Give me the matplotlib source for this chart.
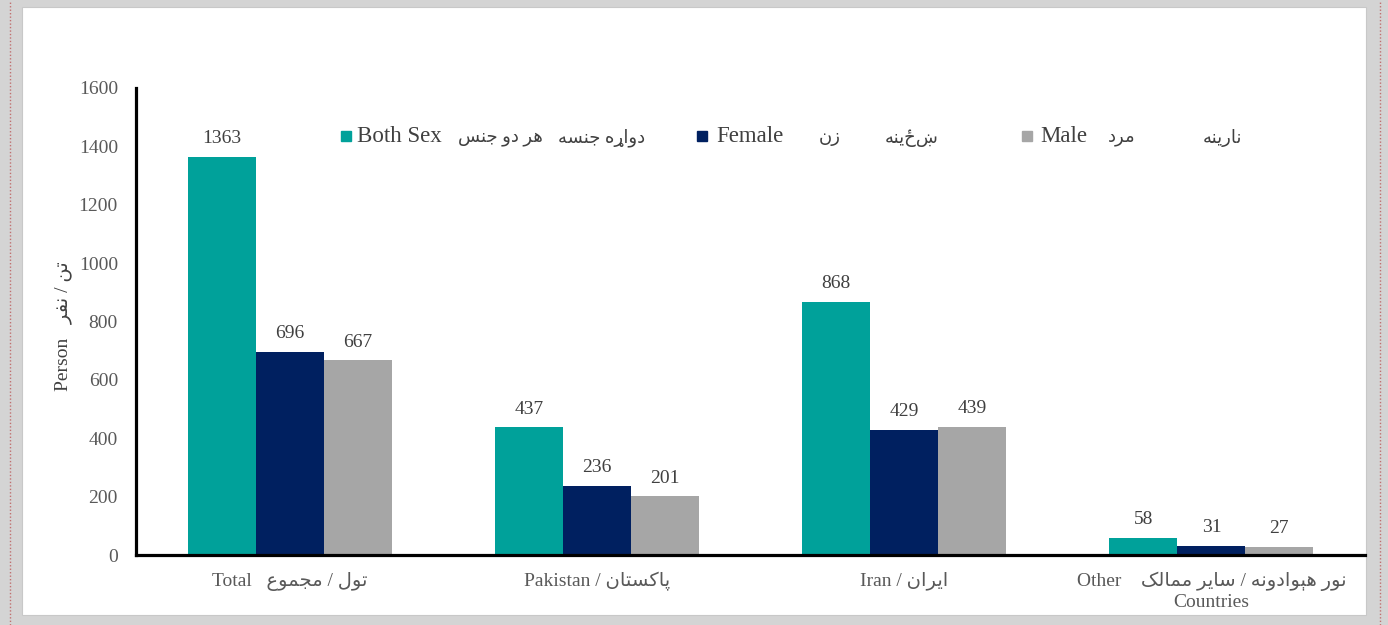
import numpy as np
import matplotlib
matplotlib.use("Agg")
import matplotlib.pyplot as plt
from matplotlib.patches import Rectangle
from matplotlib.lines import Line2D

plt.rcParams['font.family'] = ['Liberation Serif', 'DejaVu Sans']

# --- data ---
series = ["Both Sex", "Female", "Male"]
both_sex = [1363, 437, 868, 58]
female = [696, 236, 429, 31]
male = [667, 201, 439, 27]
colors = ["#00A19A", "#002060", "#A6A6A6"]

# Arabic-script shaping (matplotlib has no complex text layout)
DUAL = {0x628: 0xFE8F, 0x62A: 0xFE95, 0x62C: 0xFE9D, 0x633: 0xFEB1, 0x639: 0xFEC9,
        0x641: 0xFED1, 0x644: 0xFEDD, 0x645: 0xFEE1, 0x646: 0xFEE5, 0x647: 0xFEE9,
        0x6CC: 0xFBFC, 0x6A9: 0xFB8E, 0x67E: 0xFB56, 0x6D0: 0xFBE4}
RIGHT = {0x627: 0xFE8D, 0x62F: 0xFEA9, 0x631: 0xFEAD, 0x632: 0xFEAF, 0x648: 0xFEED}


def ar(text):
    out = []
    for i, c in enumerate(text):
        o = ord(c)
        base = DUAL.get(o, RIGHT.get(o))
        if base is None:
            out.append(c)
            continue
        prev = text[i - 1] if i > 0 else " "
        nxt = text[i + 1] if i + 1 < len(text) else " "
        before = ord(prev) in DUAL
        after = o in DUAL and (ord(nxt) in DUAL or ord(nxt) in RIGHT)
        if before and after:
            g = base + 3
        elif after:
            g = base + 2
        elif before:
            g = base + 1
        else:
            g = base
        out.append(chr(g))
    return "".join(reversed(out))


categories = [
    "Total   " + ar("تول / مجموع"),
    "Pakistan / " + ar("پاکستان"),
    "Iran / " + ar("ایران"),
    "Other    " + ar("نور هېوادونه / سایر ممالک") + "\nCountries",
]
# legend: english name, dari, pashto
legend_en = ["Both Sex", "Female", "Male"]
legend_dari = ["هر دو جنس", "زن", "مرد"]
legend_pashto = ["دواړه جنسه", "ښځینه", "نارینه"]
ylabel = "Person   " + ar("تن / نفر")

# --- figure ---
W, H = 1388, 625
fig = plt.figure(figsize=(W / 100, H / 100), dpi=100)
fig.patch.set_facecolor("#D4D4D4")
fig.patches.append(Rectangle((22 / W, 1 - 615 / H), 1344 / W, 608 / H,
                             transform=fig.transFigure, facecolor="white",
                             edgecolor="#C8C8C8", lw=0.8, zorder=-2))
for xp in (9.5 / W, 1379.5 / W):
    fig.lines.append(Line2D([xp, xp], [0, 1], transform=fig.transFigure,
                            color="#C07070", lw=1, ls=(0, (1, 1.5)), zorder=-1))

ax = fig.add_axes([136 / W, 1 - 555 / H, 1229 / W, 467 / H])
ax.set_facecolor("white")

x = np.arange(len(categories))
w = 0.2213
for k, (vals, col) in enumerate(zip([both_sex, female, male], colors)):
    bars = ax.bar(x + (k - 1) * w, vals, w, color=col, label=series[k])
    ax.bar_label(bars, padding=7, fontsize=14, color="#404040")

ax.set_xlim(-0.5, 3.5)
ax.set_ylim(0, 1600)
ax.set_yticks(np.arange(0, 1601, 200))
ax.set_xticks(x)
ax.set_xticklabels(categories, fontsize=14, color="#595959", linespacing=1.25)
ax.tick_params(axis="y", length=0, pad=13, labelsize=14, labelcolor="#595959")
ax.tick_params(axis="x", length=0, pad=12)

for s in ("top", "right"):
    ax.spines[s].set_visible(False)
for s in ("left", "bottom"):
    ax.spines[s].set_linewidth(2.3)
    ax.spines[s].set_color("black")

ax.set_ylabel(ylabel, fontsize=14, color="#404040")
ax.yaxis.set_label_coords(-0.052, 0.49)


# hand-placed legend row (pixel x positions of the reference layout)
def fx(px):
    return (px - 136) / 1229


ly = (555 - 136) / 467
sq_w, sq_h = 10 / 1229, 10 / 467
square_x = [341, 697, 1022]
en_x = [357, 716, 1040]
dari_x = [458, 830, 1122]
pashto_x = [645, 912, 1222]
for k in range(3):
    ax.add_patch(Rectangle((fx(square_x[k]), ly - sq_h / 2), sq_w, sq_h,
                           transform=ax.transAxes, color=colors[k], clip_on=False))
    ax.text(fx(en_x[k]), ly, legend_en[k], transform=ax.transAxes, fontsize=16.5,
            color="#404040", ha="left", va="center")
    ax.text(fx(dari_x[k]), ly - 0.004, ar(legend_dari[k]), transform=ax.transAxes,
            fontsize=13, color="#404040", ha="left" if k == 0 else "center", va="center")
    ax.text(fx(pashto_x[k]), ly - 0.004, ar(legend_pashto[k]), transform=ax.transAxes,
            fontsize=13, color="#404040", ha="right" if k == 0 else "center", va="center")

fig.savefig("out.png", dpi=100, facecolor=fig.get_facecolor())
